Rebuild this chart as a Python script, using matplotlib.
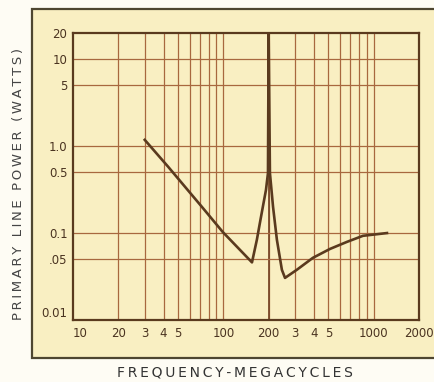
import matplotlib.pyplot as plt
from matplotlib.patches import Rectangle
import numpy as np

# curve (frequency in Mc, power in watts)
freq = [30, 43, 72, 99, 155, 167, 175, 183, 192, 198, 200, 204, 214, 227, 245, 257,
        308, 394, 512, 664, 848, 1225]
power = [1.18, 0.577, 0.2, 0.103, 0.046, 0.0836, 0.131, 0.2, 0.313, 0.49, 20, 0.49, 0.2, 0.0836,
         0.0378, 0.0305, 0.0378, 0.0519, 0.0657, 0.0792, 0.093, 0.100]

xticks = [10, 20, 30, 40, 50, 100, 200, 300, 400, 500, 1000, 2000]
xticklabels = ["10", "20", "3", "4", "5", "100", "200", "3", "4", "5", "1000", "2000"]
yticks = [0.01, 0.05, 0.1, 0.5, 1, 5, 10, 20]
yticklabels = ["0.01", ".05", "0.1", "0.5", "1.0", "5", "10", "20"]

xgrid = [20, 30, 40, 50, 60, 70, 80, 90, 100, 200, 300, 400, 500, 600, 700, 800, 900, 1000]
ygrid = [0.05, 0.1, 0.5, 1, 5, 10]

cream = "#f9efc2"
brown = "#5a3a1e"
gridc = "#a8683f"

W, H = 434, 382
fig = plt.figure(figsize=(W / 100, H / 100), dpi=100, facecolor="#fefcf4")

# background axes holding the cream panel with its dark border
bg = fig.add_axes([0, 0, 1, 1], zorder=0)
bg.set_xlim(0, W)
bg.set_ylim(H, 0)
bg.axis("off")
bg.add_patch(Rectangle((32, 9), 420, 349, facecolor=cream, edgecolor="#4e4630", linewidth=1.6))

ax = fig.add_axes([73 / W, 1 - 320 / H, (419 - 73) / W, (320 - 33) / H], zorder=1)
ax.set_facecolor("none")
ax.set_xscale("log")
ax.set_yscale("log")
ax.set_xlim(10, 2000)
ax.set_ylim(0.01, 20)

for xv in xgrid:
    ax.axvline(xv, color=gridc, lw=0.9, zorder=1)
ax.axvline(200, color="#7a4a2a", lw=1.3, zorder=1)
for yv in ygrid:
    ax.axhline(yv, color=gridc, lw=0.9, zorder=1)

ax.plot(freq, power, color=brown, lw=1.9, zorder=3)

ax.set_xticks(xticks)
ax.set_xticklabels(xticklabels)
ax.set_yticks(yticks)
ax.set_yticklabels(yticklabels)
ax.minorticks_off()
ax.tick_params(length=0, labelsize=8.5, labelcolor="#4a3320", pad=5)
ax.tick_params(axis="y", pad=4)

xl = ax.get_xticklabels()
xl[0].set_ha("left")
yl = ax.get_yticklabels()
yl[0].set_va("bottom")

for s in ax.spines.values():
    s.set_color(brown)
    s.set_linewidth(1.6)

thin = "\u2009"
fig.text(235 / W, 1 - 372 / H, thin.join("FREQUENCY-MEGACYCLES"), ha="center", va="center",
         fontsize=10, color="#333333")
fig.text(19 / W, 1 - 184 / H, thin.join("PRIMARY LINE POWER (WATTS)"), ha="center", va="center",
         rotation=90, fontsize=9.5, color="#444444")

fig.savefig("out.png", dpi=100, facecolor=fig.get_facecolor())
